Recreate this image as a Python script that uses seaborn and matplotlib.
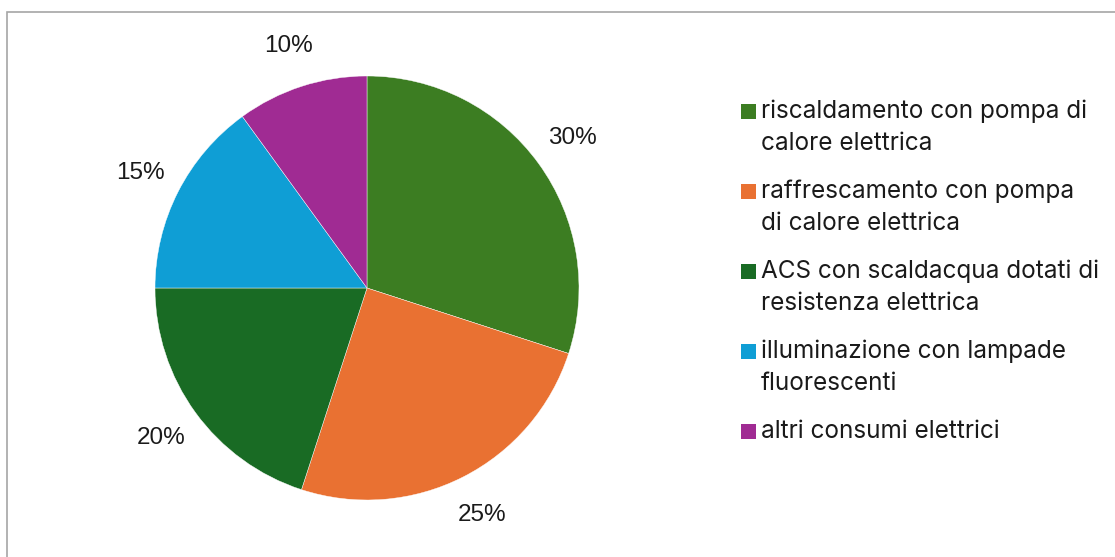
import matplotlib
matplotlib.use("Agg")
import matplotlib.pyplot as plt
from matplotlib.patches import Rectangle
import seaborn as sns

# Ripartizione dei consumi elettrici per uso finale
categories = [
    "riscaldamento con pompa di\ncalore elettrica",
    "raffrescamento con pompa\ndi calore elettrica",
    "ACS con scaldacqua dotati di\nresistenza elettrica",
    "illuminazione con lampade\nfluorescenti",
    "altri consumi elettrici",
]
shares = [30, 25, 20, 15, 10]
slice_colors = ["#3C7D22", "#E97132", "#196B24", "#0F9ED5", "#A02B93"]

sns.set_theme(style="white")
palette = sns.color_palette(slice_colors)
plt.rcParams["font.family"] = ["Liberation Sans", "DejaVu Sans"]

W, H = 1115, 557
fig = plt.figure(figsize=(W / 100, H / 100), dpi=100)
fig.patch.set_facecolor("white")

# chart frame (left and top edges visible)
fig.patches.append(Rectangle((7 / W, -0.1), 1.2, (H - 12) / H + 0.1,
                             transform=fig.transFigure, fill=False,
                             edgecolor="#A6A6A6", linewidth=1.2, zorder=0))

cx, cy, r = 367, 288, 212
ax = fig.add_axes([(cx - r) / W, (H - cy - r) / H, 2 * r / W, 2 * r / H])
wedges, texts, autotexts = ax.pie(
    shares,
    colors=palette,
    startangle=90,
    counterclock=False,
    autopct="%.0f%%",
    pctdistance=1.2,
    wedgeprops=dict(edgecolor="white", linewidth=0.3),
    textprops=dict(fontsize=17.5, color="#1a1a1a", family=["Liberation Sans", "DejaVu Sans"]),
)
for t in autotexts:
    t.set_ha("center")
    t.set_va("center")
ax.set_xlim(-1, 1)
ax.set_ylim(-1, 1)
ax.set_aspect("equal")
ax.axis("off")

# legend with square swatches and wrapped labels
leg_x_box, leg_x_text = 741, 761
y0, entry_gap, line_gap, box = 111, 80, 32, 15
for i, (lab, col) in enumerate(zip(categories, palette)):
    yc = y0 + entry_gap * i
    fig.patches.append(Rectangle((leg_x_box / W, (H - yc - box / 2) / H), box / W, box / H,
                                 transform=fig.transFigure, facecolor=col,
                                 edgecolor="none"))
    for j, line in enumerate(lab.split("\n")):
        fig.text(leg_x_text / W, (H - (yc + line_gap * j)) / H, line,
                 ha="left", va="center", fontsize=17.5, color="#1a1a1a",
                 family=["Inter", "DejaVu Sans"])

fig.savefig("out.png", dpi=100, facecolor="white")
